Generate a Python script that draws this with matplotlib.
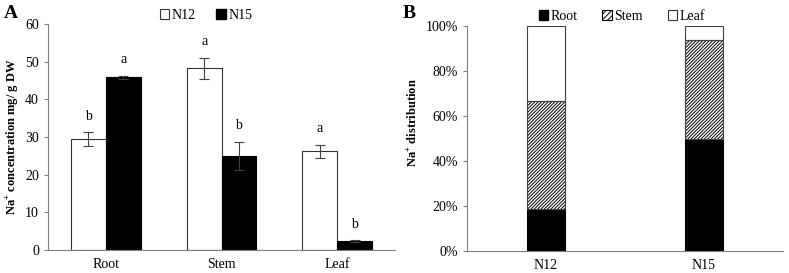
import numpy as np
import matplotlib
matplotlib.use("Agg")
import matplotlib.pyplot as plt
from matplotlib.patches import Patch

plt.rcParams['font.family'] = ['Liberation Serif', 'DejaVu Serif']
plt.rcParams['mathtext.fontset'] = 'custom'
plt.rcParams['mathtext.rm'] = 'Liberation Serif'
plt.rcParams['mathtext.bf'] = 'Liberation Serif:bold'
plt.rcParams['hatch.linewidth'] = 0.7

# panel A data
organs = ['Root', 'Stem', 'Leaf']
n12 = [29.5, 48.2, 26.2]
n12_err = [1.8, 2.9, 1.7]
n15 = [45.8, 25.0, 2.3]
n15_err = [0.5, 3.7, 0.3]
n12_letters = ['b', 'a', 'a']
n15_letters = ['a', 'b', 'b']

# panel B data (percent)
groups = ['N12', 'N15']
root_pct = [18.7, 49.7]
stem_pct = [48.0, 44.3]
leaf_pct = [33.3, 6.0]

spine_col = '#808080'
hatch = '/' * 10
fig = plt.figure(figsize=(7.89, 2.73), dpi=100)

# ---- panel A
ax1 = fig.add_axes([48/789, 23/273, 347/789, 226/273])
x = np.arange(len(organs))
w = 0.3
ekw = dict(ecolor='#404040', elinewidth=0.8, capsize=3.5, capthick=0.8)
ax1.bar(x - w/2, n12, w, color='white', edgecolor='#333333', linewidth=0.8, yerr=n12_err, error_kw=ekw)
ax1.bar(x + w/2, n15, w, color='black', edgecolor='black', linewidth=0.8, yerr=n15_err, error_kw=ekw)
for i in range(len(organs)):
    ax1.text(x[i] - w/2, n12[i] + n12_err[i] + 2.5, n12_letters[i], ha='center', va='bottom', fontsize=10)
    ax1.text(x[i] + w/2, n15[i] + n15_err[i] + 2.5, n15_letters[i], ha='center', va='bottom', fontsize=10)
ax1.set_xlim(-0.5, 2.5)
ax1.set_ylim(0, 60)
ax1.set_yticks(range(0, 61, 10))
ax1.set_xticks(x)
ax1.set_xticklabels(organs, fontsize=10)
ax1.tick_params(axis='y', labelsize=10, length=3, color=spine_col)
ax1.tick_params(axis='x', length=0, pad=6)
for s in ['top', 'right']:
    ax1.spines[s].set_visible(False)
for s in ['left', 'bottom']:
    ax1.spines[s].set_color(spine_col)
ax1.set_ylabel(r'Na$^{\mathbf{+}}$ concentration mg/ g DW', fontsize=9, fontweight='bold', labelpad=3)
h = [Patch(facecolor='white', edgecolor='#333333', linewidth=0.8, label='N12'),
     Patch(facecolor='black', edgecolor='black', label='N15')]
ax1.legend(handles=h, ncol=2, frameon=False, loc='lower center', bbox_to_anchor=(0.455, 0.955),
           handlelength=0.7, handleheight=0.7, handletextpad=0.15, columnspacing=1.5, fontsize=10)
fig.text(4/789, 1 - 18/273, 'A', fontsize=14, fontweight='bold')

# ---- panel B
ax2 = fig.add_axes([467/789, 22/273, 316/789, 225/273])
xb = np.arange(len(groups))
wb = 0.24
root_arr = np.array(root_pct)
stem_arr = np.array(stem_pct)
leaf_arr = np.array(leaf_pct)
ax2.bar(xb, root_arr, wb, color='black', edgecolor='black', linewidth=0.8)
ax2.bar(xb, stem_arr, wb, bottom=root_arr, color='white', edgecolor='black', hatch=hatch, linewidth=0)
ax2.bar(xb, leaf_arr, wb, bottom=root_arr + stem_arr, color='white', edgecolor='#404040', linewidth=0.8)
# outline for hatched segment
ax2.bar(xb, stem_arr, wb, bottom=root_arr, fill=False, edgecolor='#404040', linewidth=0.8)
ax2.set_xlim(-0.5, 1.5)
ax2.set_ylim(0, 100)
ax2.set_yticks(range(0, 101, 20))
ax2.set_yticklabels([f'{v}%' for v in range(0, 101, 20)])
ax2.set_xticks(xb)
ax2.set_xticklabels(groups, fontsize=10)
ax2.tick_params(axis='y', labelsize=10, length=3, color=spine_col)
ax2.tick_params(axis='x', length=0, pad=6)
for s in ['top', 'right']:
    ax2.spines[s].set_visible(False)
for s in ['left', 'bottom']:
    ax2.spines[s].set_color(spine_col)
ax2.set_ylabel(r'Na$^{\mathbf{+}}$ distribution', fontsize=9, fontweight='bold')
ax2.yaxis.set_label_coords(-0.15, 0.57)
hb = [Patch(facecolor='black', edgecolor='black', label='Root'),
      Patch(facecolor='white', edgecolor='black', hatch='//////', linewidth=0.8, label='Stem'),
      Patch(facecolor='white', edgecolor='#333333', linewidth=0.8, label='Leaf')]
ax2.legend(handles=hb, ncol=3, frameon=False, loc='lower center', bbox_to_anchor=(0.49, 0.96),
           handlelength=0.7, handleheight=0.7, handletextpad=0.15, columnspacing=1.8, fontsize=10)
fig.text(403/789, 1 - 18/273, 'B', fontsize=14, fontweight='bold')

fig.savefig('out.png', dpi=100)
